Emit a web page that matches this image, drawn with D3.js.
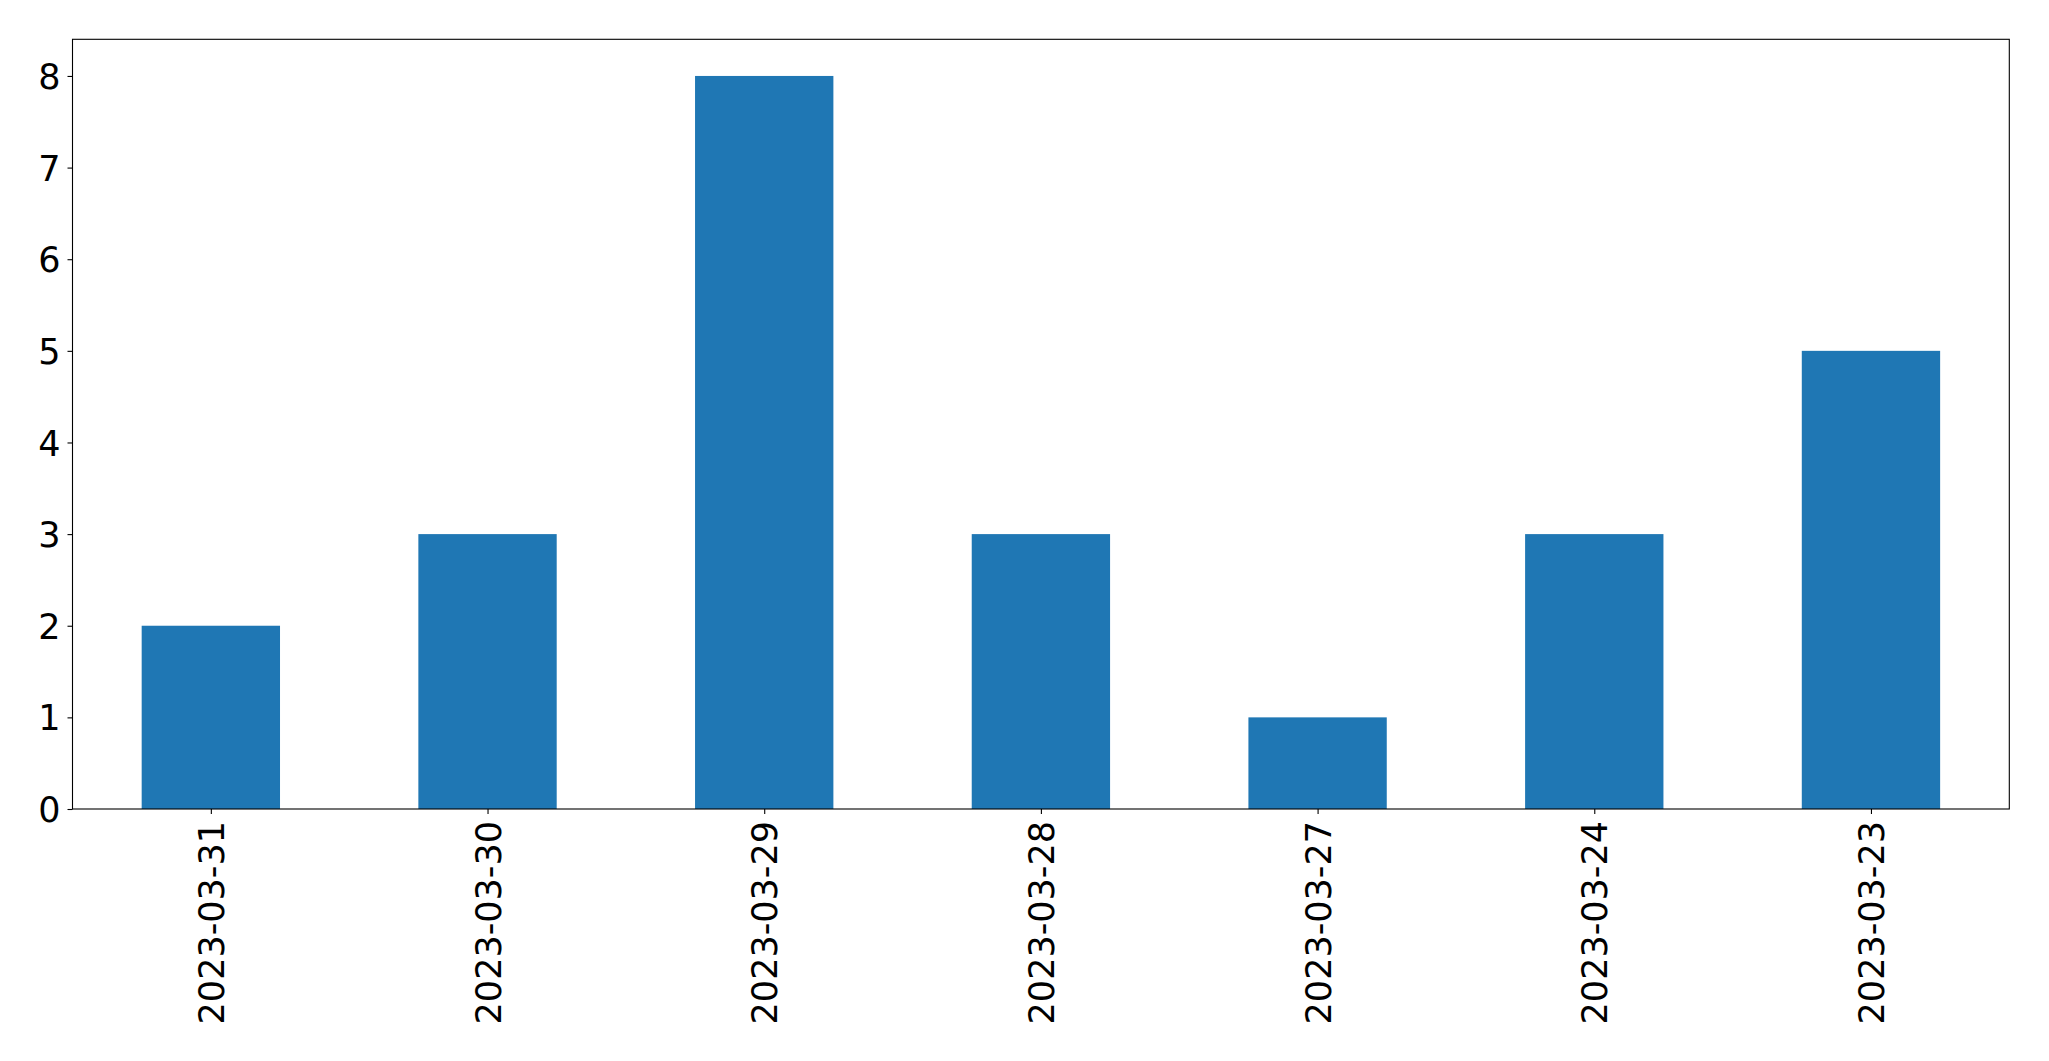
<!DOCTYPE html>
<html><head><meta charset="utf-8">
<script src="https://cdn.jsdelivr.net/npm/d3@7"></script>
<style>body{margin:0;background:#fff}svg{display:block}</style>
</head><body>
<script>
const categories = ["2023-03-31","2023-03-30","2023-03-29","2023-03-28","2023-03-27","2023-03-24","2023-03-23"];
const values = [2,3,8,3,1,3,5];
const yTicks = [0,1,2,3,4,5,6,7,8];

const W = 2049, H = 1061;
const m = {left:72.5, right:2049-2009.3, top:39.3, bottom:H-809};
const svg = d3.select("body").append("svg").attr("width",W).attr("height",H);
const pw = W-m.left-m.right, ph = H-m.top-m.bottom;
const g = svg.append("g").attr("transform",`translate(${m.left},${m.top})`);

const x = d3.scaleLinear().domain([-0.5, categories.length-0.5]).range([0,pw]);
const y = d3.scaleLinear().domain([0, 8*1.05]).range([ph,0]);

g.selectAll("rect.bar").data(values).join("rect")
  .attr("class","bar")
  .attr("x",(d,i)=>x(i-0.25)).attr("width",(d,i)=>x(i+0.25)-x(i-0.25))
  .attr("y",d=>y(d)).attr("height",d=>y(0)-y(d))
  .attr("fill","#1f77b4");

const font = "'DejaVu Sans', sans-serif";
const yAxis = g.append("g").call(d3.axisLeft(y).tickValues(yTicks).tickFormat(d3.format("d")).tickSize(5).tickPadding(7));
const xAxis = g.append("g").attr("transform",`translate(0,${ph})`)
  .call(d3.axisBottom(x).tickValues(d3.range(categories.length)).tickFormat(i=>categories[i]).tickSize(5).tickPadding(0));
[yAxis,xAxis].forEach(a=>{
  a.select(".domain").remove();
  a.selectAll("line").attr("stroke","#000").attr("stroke-width",1.1);
  a.selectAll("text").attr("font-family",font).attr("font-size",35).attr("fill","#000");
});
yAxis.selectAll("text").attr("dy","0.36em");
xAxis.selectAll("text").attr("transform","rotate(-90)").attr("text-anchor","end")
  .attr("x",-12).attr("y",0).attr("dy","0.36em");

g.append("rect").attr("x",0).attr("y",0).attr("width",pw).attr("height",ph)
  .attr("fill","none").attr("stroke","#000").attr("stroke-width",1.1);
</script>
</body></html>
